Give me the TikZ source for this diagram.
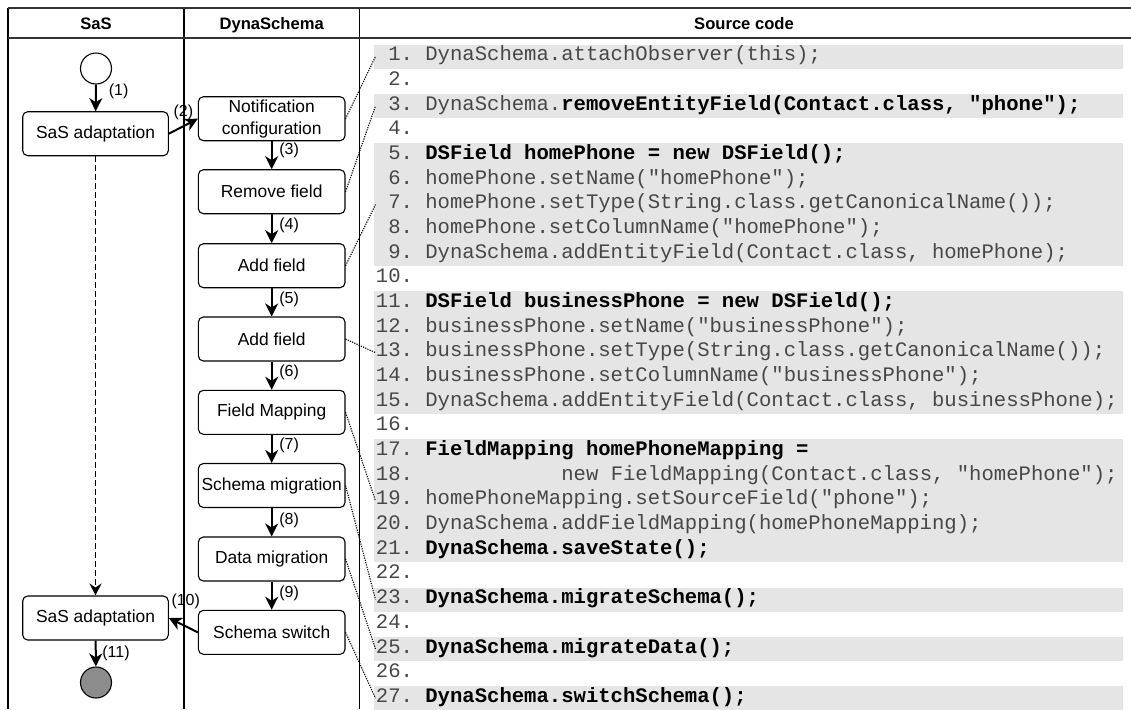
\documentclass[tikz,border=0pt]{standalone}
\usepackage{fontspec}
\setmainfont{Liberation Sans}
\setmonofont{Liberation Mono}
\usetikzlibrary{arrows.meta}
\newcommand\kb[1]{{\bfseries\color{black}#1}}
\begin{document}
\begin{tikzpicture}[x=0.5pt,y=-0.5pt,
  box/.style={draw, line width=0.55pt, rounded corners=2.5pt, minimum width=73.3pt, minimum height=22pt, inner sep=1pt, align=center, font=\fontsize{8.7}{10.8}\selectfont},
  hdr/.style={anchor=base, inner sep=0pt, font=\fontsize{8.3}{10}\selectfont\bfseries},
  arr/.style={line width=1pt, -{Stealth[length=6.5pt,width=6.5pt,inset=2pt]}},
  dasharr/.style={line width=0.8pt, dash pattern=on 3pt off 1.5pt, -{Stealth[length=6pt,width=6pt,inset=2pt]}},
  lbl/.style={font=\fontsize{8}{9.6}\selectfont, inner sep=0pt},
  code/.style={anchor=west, inner sep=0pt, text height=7pt, text depth=2.8pt, text=black!72, font=\ttfamily\fontsize{10.3}{12}\selectfont\frenchspacing},
  band/.style={fill=black!10},
  link/.style={line width=0.55pt, dash pattern=on 0.6pt off 0.6pt},
  frame/.style={line width=0.65pt},
  hline/.style={line width=1pt, black!80}]
\useasboundingbox (0,0) rectangle (1131,709);
% grey bands
\fill[band] (374,44.5) rectangle (1123,68.5);
\fill[band] (374,93.9) rectangle (1123,117.9);
\fill[band] (374,143.2) rectangle (1123,265.9);
\fill[band] (374,291.3) rectangle (1123,414);
\fill[band] (374,439.4) rectangle (1123,562.1);
\fill[band] (374,587.5) rectangle (1123,611.5);
\fill[band] (374,636.8) rectangle (1123,660.8);
\fill[band] (374,686.2) rectangle (1123,710.2);
% frame
\draw[frame] (8,8.3) -- (8,709);
\draw[frame] (184,8.3) -- (184,709);
\draw[frame] (359.5,8.3) -- (359.5,709);
\draw[hline] (8,8.3) -- (1131,8.3);
\draw[hline] (8,37.5) -- (1131,37.5);
% headers
\node[hdr] (hsas) at (96,29.3) {SaS};
\node[hdr] (hdyn) at (271.7,29.3) {DynaSchema};
\node[hdr] (hsrc) at (744,29.3) {Source code};
% SaS lane
\node[draw, circle, line width=0.55pt, minimum size=15.5pt, inner sep=0pt] (startc) at (96,68.5) {};
\node[box, minimum width=72.8pt] (sas1) at (95.5,133.7) {SaS adaptation};
\node[box, minimum width=72.8pt] (sas2) at (95.5,618) {SaS adaptation};
\node[draw, circle, fill=black!45, line width=0.55pt, minimum size=15.5pt, inner sep=0pt] (endc) at (96,682.5) {};
% DynaSchema lane
\node[box] (notif) at (271.7,118.7) {Notification\\configuration};
\node[box] (remove) at (271.7,191.7) {Remove field};
\node[box] (add1) at (271.7,265.7) {Add field};
\node[box] (add2) at (271.7,339) {Add field};
\node[box] (fmap) at (271.7,412.3) {Field Mapping};
\node[box] (smig) at (271.7,485.5) {Schema migration};
\node[box] (dmig) at (271.7,559) {Data migration};
\node[box] (sswitch) at (271.7,632.3) {Schema switch};
% flow arrows
\draw[arr] (startc) -- node[lbl, pos=0.25, right=6pt] {(1)} (sas1);
\draw[arr] (sas1.east) -- node[lbl, midway, above=2.5pt] {(2)} (notif.west);
\draw[arr] (notif) -- node[lbl, pos=0.32, right=3.3pt] {(3)} (remove);
\draw[arr] (remove) -- node[lbl, pos=0.38, right=3.3pt] {(4)} (add1);
\draw[arr] (add1) -- node[lbl, pos=0.38, right=3.3pt] {(5)} (add2);
\draw[arr] (add2) -- node[lbl, pos=0.38, right=3.3pt] {(6)} (fmap);
\draw[arr] (fmap) -- node[lbl, pos=0.38, right=3.3pt] {(7)} (smig);
\draw[arr] (smig) -- node[lbl, pos=0.42, right=3.3pt] {(8)} (dmig);
\draw[arr] (dmig) -- node[lbl, pos=0.42, right=3.3pt] {(9)} (sswitch);
\draw[arr] (sswitch.west) -- node[lbl, midway, above=7.5pt, xshift=1.2pt] {(10)} (sas2.east);
\draw[arr] (sas2) -- node[lbl, pos=0.5, right=2.8pt] {(11)} (endc);
\draw[dasharr] (sas1) -- (sas2);
% source code
\node[code] (c1) at (375.5,56.5) {\phantom{0}1. DynaSchema.attachObserver(this);};
\node[code] (c2) at (375.5,81.18) {\phantom{0}2.};
\node[code] (c3) at (375.5,105.86) {\phantom{0}3. DynaSchema.\kb{removeEntityField(Contact.class, "phone");}};
\node[code] (c4) at (375.5,130.54) {\phantom{0}4.};
\node[code] (c5) at (375.5,155.22) {\phantom{0}5. \kb{DSField homePhone = new DSField();}};
\node[code] (c6) at (375.5,179.9) {\phantom{0}6. homePhone.setName("homePhone");};
\node[code] (c7) at (375.5,204.58) {\phantom{0}7. homePhone.setType(String.class.getCanonicalName());};
\node[code] (c8) at (375.5,229.26) {\phantom{0}8. homePhone.setColumnName("homePhone");};
\node[code] (c9) at (375.5,253.94) {\phantom{0}9. DynaSchema.addEntityField(Contact.class, homePhone);};
\node[code] (c10) at (375.5,278.62) {10.};
\node[code] (c11) at (375.5,303.3) {11. \kb{DSField businessPhone = new DSField();}};
\node[code] (c12) at (375.5,327.98) {12. businessPhone.setName("businessPhone");};
\node[code] (c13) at (375.5,352.66) {13. businessPhone.setType(String.class.getCanonicalName());};
\node[code] (c14) at (375.5,377.34) {14. businessPhone.setColumnName("businessPhone");};
\node[code] (c15) at (375.5,402.02) {15. DynaSchema.addEntityField(Contact.class, businessPhone);};
\node[code] (c16) at (375.5,426.7) {16.};
\node[code] (c17) at (375.5,451.38) {17. \kb{FieldMapping homePhoneMapping =}};
\node[code] (c18) at (375.5,476.06) {18.\ \ \ \ \ \ \ \ \ \ \ \ new FieldMapping(Contact.class, "homePhone");};
\node[code] (c19) at (375.5,500.74) {19. homePhoneMapping.setSourceField("phone");};
\node[code] (c20) at (375.5,525.42) {20. DynaSchema.addFieldMapping(homePhoneMapping);};
\node[code] (c21) at (375.5,550.1) {21. \kb{DynaSchema.saveState();}};
\node[code] (c22) at (375.5,574.78) {22.};
\node[code] (c23) at (375.5,599.46) {23. \kb{DynaSchema.migrateSchema();}};
\node[code] (c24) at (375.5,624.14) {24.};
\node[code] (c25) at (375.5,648.82) {25. \kb{DynaSchema.migrateData();}};
\node[code] (c26) at (375.5,673.5) {26.};
\node[code] (c27) at (375.5,698.18) {27. \kb{DynaSchema.switchSchema();}};
% dotted links
\draw[link] (notif.east) -- (c1.west);
\draw[link] (remove.east) -- (c3.west);
\draw[link] (add1.east) -- (c7.west);
\draw[link] (add2.east) -- (c13.west);
\draw[link] (fmap.east) -- (c19.west);
\draw[link] (smig.east) -- (c23.west);
\draw[link] (dmig.east) -- (c25.west);
\draw[link] (sswitch.east) -- (c27.west);
\end{tikzpicture}
\end{document}
